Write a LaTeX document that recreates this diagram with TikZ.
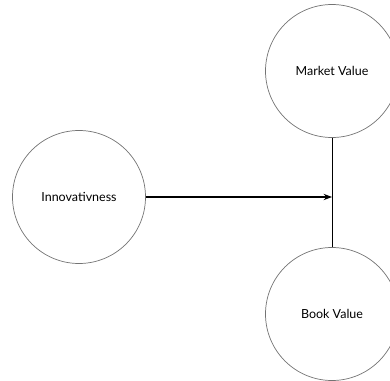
\documentclass[tikz,border=0pt]{standalone}
\usepackage{fontspec}
\setmainfont{Lato}
\usetikzlibrary{arrows.meta,positioning}
\tikzset{
  construct/.style={circle,draw=black!55,line width=0.7pt,minimum size=133pt,inner sep=0pt,font=\fontsize{12.5}{14}\selectfont},
  link/.style={line width=0.8pt,black}
}
\begin{document}
\begin{tikzpicture}[>=Stealth,x=1pt,y=-1pt]
\useasboundingbox (0,0) rectangle (390,380);
\node[construct] (MV) at (332,71) {Market Value};
\node[construct] (BV) at (332,314) {Book Value};
\node[construct] (IN) at (79,197) {Innovativness};
\coordinate (J) at (332,197);
\draw[link] (MV.south) -- (BV.north);
\draw[link,line width=1.2pt,->] (IN.east) -- (J);
\end{tikzpicture}
\end{document}
